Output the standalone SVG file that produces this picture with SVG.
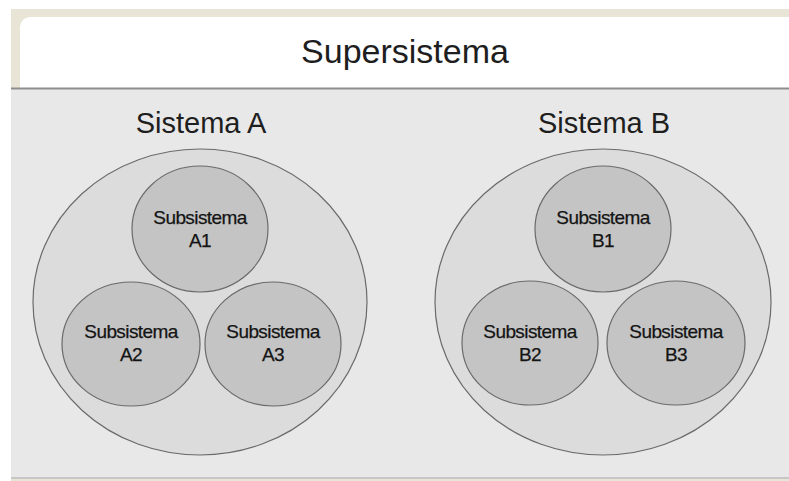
<svg xmlns="http://www.w3.org/2000/svg" width="789" height="481" viewBox="0 0 789 481">
  <style>
    .sys { fill: #dcdcdc; stroke: #6a6a6a; stroke-width: 1.2; }
    .sub { fill: #c4c4c4; stroke: #6a6a6a; stroke-width: 1.2; }
    .title { font-family: "Liberation Sans", Arial, sans-serif; font-size: 34px; fill: #1e1e1e; text-anchor: middle; }
    .sysLabel { font-family: "Liberation Sans", Arial, sans-serif; font-size: 29px; fill: #1e1e1e; text-anchor: middle; }
    .subLabel { font-family: "Liberation Sans", Arial, sans-serif; font-size: 19px; fill: #141414; stroke: #141414; stroke-width: 0.25; text-anchor: middle; letter-spacing: -0.6px; }
  </style>

  <!-- page background and frame -->
  <rect x="0" y="0" width="789" height="481" fill="#ffffff"/>
  <rect x="11" y="9" width="778" height="472" fill="#e9e5d6"/>

  <!-- header panel -->
  <g id="supersistema">
    <rect x="20" y="17" width="780" height="80" rx="10" ry="10" fill="#ffffff"/>
    <rect x="11" y="89" width="778" height="388" fill="#e8e8e8"/>
    <line x1="11" y1="88.5" x2="789" y2="88.5" stroke="#8e8e8e" stroke-width="2"/>
    <line x1="11" y1="478" x2="789" y2="478" stroke="#c6c6c6" stroke-width="2"/>
    <text class="title" x="405" y="63">Supersistema</text>
  </g>

  <!-- system A -->
  <g id="sistema-a">
    <text class="sysLabel" x="201" y="133">Sistema A</text>
    <ellipse class="sys" cx="200" cy="302" rx="167" ry="153"/>
  </g>
  <g id="subsistema-a1">
    <ellipse class="sub" cx="200" cy="229" rx="68" ry="63"/>
    <text class="subLabel" x="200" y="224">Subsistema</text>
    <text class="subLabel" x="200" y="247">A1</text>
  </g>
  <g id="subsistema-a2">
    <ellipse class="sub" cx="131" cy="344" rx="69" ry="62"/>
    <text class="subLabel" x="131" y="338">Subsistema</text>
    <text class="subLabel" x="131" y="361">A2</text>
  </g>
  <g id="subsistema-a3">
    <ellipse class="sub" cx="273" cy="344" rx="68" ry="62"/>
    <text class="subLabel" x="273" y="338">Subsistema</text>
    <text class="subLabel" x="273" y="361">A3</text>
  </g>

  <!-- system B -->
  <g id="sistema-b">
    <text class="sysLabel" x="604" y="133">Sistema B</text>
    <ellipse class="sys" cx="603" cy="302" rx="168" ry="153"/>
  </g>
  <g id="subsistema-b1">
    <ellipse class="sub" cx="603" cy="229" rx="68" ry="63"/>
    <text class="subLabel" x="603" y="224">Subsistema</text>
    <text class="subLabel" x="603" y="247">B1</text>
  </g>
  <g id="subsistema-b2">
    <ellipse class="sub" cx="530" cy="343" rx="68" ry="62"/>
    <text class="subLabel" x="530" y="338">Subsistema</text>
    <text class="subLabel" x="530" y="361">B2</text>
  </g>
  <g id="subsistema-b3">
    <ellipse class="sub" cx="676" cy="343" rx="69" ry="62"/>
    <text class="subLabel" x="676" y="338">Subsistema</text>
    <text class="subLabel" x="676" y="361">B3</text>
  </g>

  <!-- no connectors in this diagram -->
  <g id="connectors"/>
</svg>
